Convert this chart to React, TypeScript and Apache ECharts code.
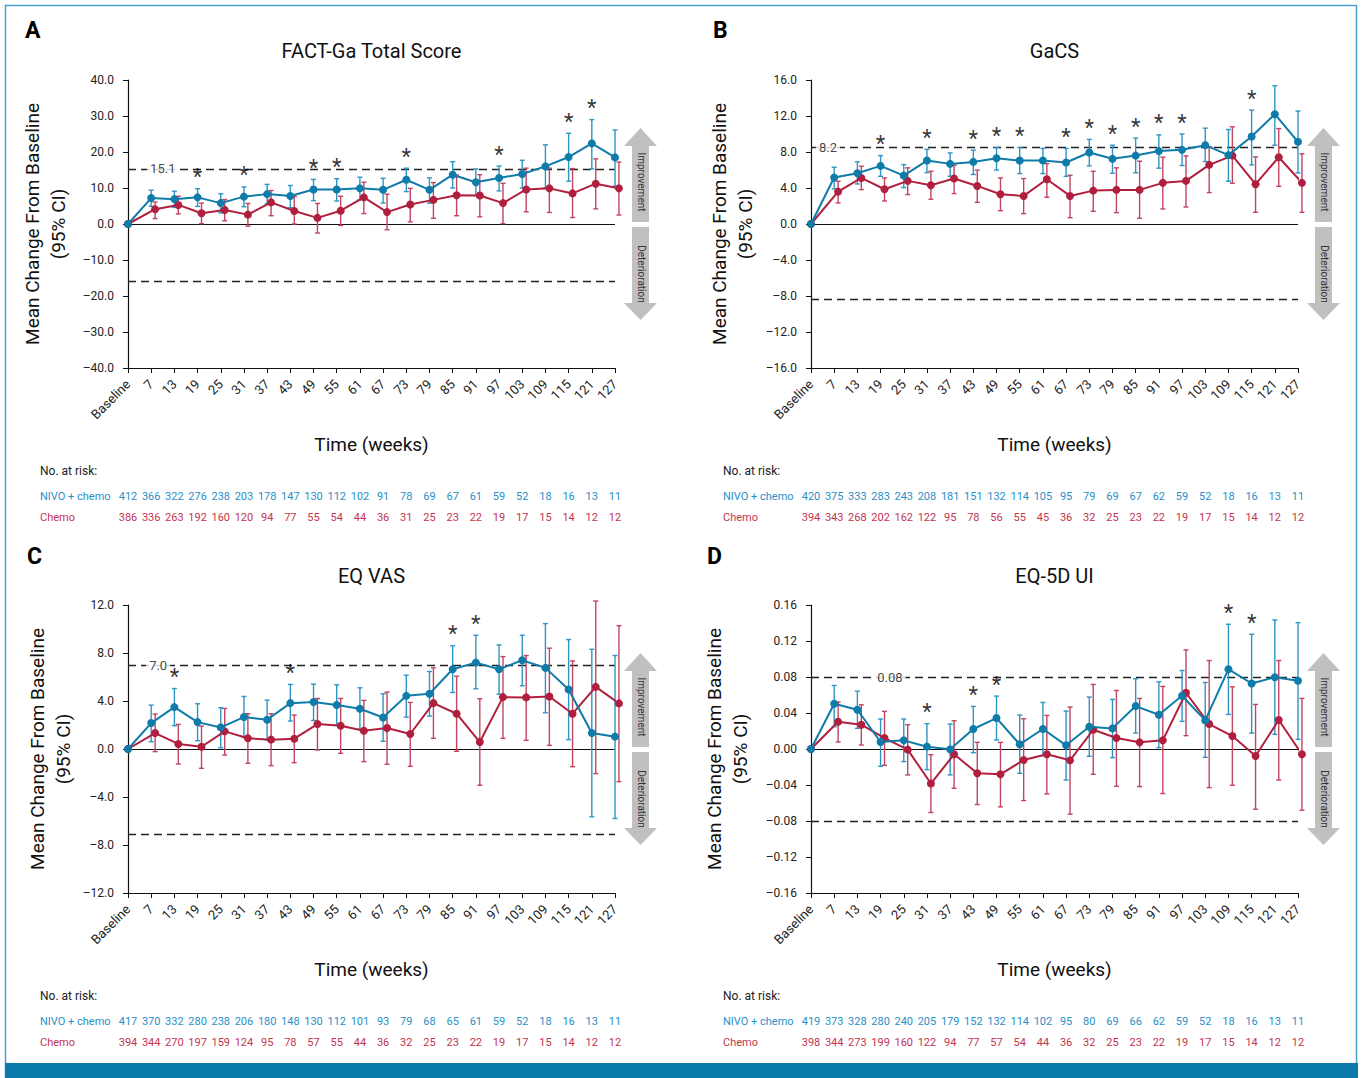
import React, { useEffect, useRef } from "react";
import * as echarts from "echarts";

// ---------- DATA ----------
const CATS = ["Baseline", "7", "13", "19", "25", "31", "37", "43", "49", "55", "61", "67", "73", "79", "85", "91", "97", "103", "109", "115", "121", "127"];

// A: FACT-Ga Total Score
const A_NIVO = [0, 7.2, 6.9, 7.4, 5.8, 7.6, 8.3, 7.8, 9.6, 9.6, 9.9, 9.5, 12.3, 9.5, 13.7, 11.6, 12.8, 13.9, 16.0, 18.6, 22.4, 18.5];
const A_NIVO_LO = [0, 4.9, 4.6, 4.9, 3.1, 4.8, 5.6, 4.5, 6.5, 6.4, 6.7, 5.8, 9.0, 5.8, 10.0, 7.9, 9.2, 10.0, 10.0, 11.9, 15.3, 10.5];
const A_NIVO_HI = [0, 9.4, 9.1, 9.8, 8.4, 10.3, 11.0, 10.7, 12.4, 12.6, 13.0, 12.7, 15.5, 12.8, 17.3, 15.3, 16.1, 17.7, 22.0, 25.2, 29.0, 26.1];
const A_CHEMO = [0, 4.1, 5.3, 3.0, 3.9, 2.6, 6.0, 3.6, 1.7, 3.7, 7.4, 3.3, 5.4, 6.7, 8.0, 7.9, 5.8, 9.6, 9.9, 8.5, 11.2, 9.9];
const A_CHEMO_LO = [0, 1.5, 2.8, 0.1, 0.9, -0.6, 2.3, 0.0, -2.5, -0.4, 2.9, -1.6, 0.6, 1.6, 2.3, 2.0, 0.1, 3.4, 3.2, 1.8, 4.2, 2.5];
const A_CHEMO_HI = [0, 6.1, 7.7, 5.8, 6.8, 5.7, 9.3, 7.7, 5.7, 7.7, 11.6, 8.3, 9.9, 11.5, 13.6, 13.7, 11.3, 15.5, 15.5, 15.4, 18.1, 17.2];
const A_SIG = [3, 5, 8, 9, 12, 16, 19, 20];
const A_REF = [15.3, -15.8];
const A_REF_LABEL = "15.1";
const A_RISK_NIVO = [412, 366, 322, 276, 238, 203, 178, 147, 130, 112, 102, 91, 78, 69, 67, 61, 59, 52, 18, 16, 13, 11];
const A_RISK_CHEMO = [386, 336, 263, 192, 160, 120, 94, 77, 55, 54, 44, 36, 31, 25, 23, 22, 19, 17, 15, 14, 12, 12];

// B: GaCS
const B_NIVO = [0, 5.16, 5.64, 6.46, 5.38, 7.05, 6.68, 6.9, 7.3, 7.05, 7.05, 6.83, 7.94, 7.24, 7.6, 8.1, 8.24, 8.76, 7.65, 9.73, 12.2, 9.13];
const B_NIVO_LO = [0, 3.9, 4.45, 5.3, 4.05, 5.7, 5.3, 5.5, 6.0, 5.6, 5.6, 5.3, 6.46, 5.64, 5.7, 6.2, 6.5, 6.94, 4.75, 6.57, 8.76, 5.68];
const B_NIVO_HI = [0, 6.3, 6.9, 7.6, 6.6, 8.3, 7.9, 8.2, 8.5, 8.5, 8.4, 8.4, 9.4, 8.76, 9.54, 9.9, 10.0, 10.65, 10.5, 12.66, 15.37, 12.55];
const B_CHEMO = [0, 3.6, 5.12, 3.86, 4.79, 4.3, 5.05, 4.23, 3.3, 3.12, 4.97, 3.12, 3.71, 3.79, 3.79, 4.57, 4.79, 6.57, 7.6, 4.42, 7.42, 4.57];
const B_CHEMO_LO = [0, 2.34, 3.82, 2.56, 3.27, 2.75, 3.38, 2.41, 1.48, 1.15, 2.97, 0.7, 1.41, 1.26, 0.63, 1.67, 1.89, 3.49, 4.53, 1.3, 4.19, 1.3];
const B_CHEMO_HI = [0, 4.75, 6.42, 5.12, 6.24, 5.86, 6.53, 5.98, 5.12, 5.05, 6.72, 5.42, 5.86, 6.24, 6.98, 7.42, 7.57, 8.6, 10.8, 7.46, 10.6, 7.8];
const B_SIG = [3, 5, 7, 8, 9, 11, 12, 13, 14, 15, 16, 19];
const B_REF = [8.5, -8.4];
const B_REF_LABEL = "8.2";
const B_RISK_NIVO = [420, 375, 333, 283, 243, 208, 181, 151, 132, 114, 105, 95, 79, 69, 67, 62, 59, 52, 18, 16, 13, 11];
const B_RISK_CHEMO = [394, 343, 268, 202, 162, 122, 95, 78, 56, 55, 45, 36, 32, 25, 23, 22, 19, 17, 15, 14, 12, 12];

// C: EQ VAS
const C_NIVO = [0, 2.16, 3.49, 2.24, 1.8, 2.66, 2.44, 3.82, 3.91, 3.66, 3.35, 2.63, 4.43, 4.6, 6.65, 7.2, 6.65, 7.4, 6.76, 4.96, 1.33, 1.03];
const C_NIVO_LO = [0, 0.61, 1.94, 0.69, 0.11, 0.97, 0.75, 2.33, 2.38, 2.0, 1.64, 0.64, 2.66, 2.74, 4.71, 5.02, 4.57, 5.27, 3.02, 0.78, -5.65, -5.79];
const C_NIVO_HI = [0, 3.66, 5.04, 3.77, 3.44, 4.38, 4.07, 5.38, 5.4, 5.35, 5.1, 4.6, 6.15, 6.46, 8.6, 9.48, 8.67, 9.48, 10.45, 9.12, 8.31, 7.79];
const C_CHEMO = [0, 1.33, 0.42, 0.19, 1.47, 0.89, 0.78, 0.86, 2.08, 1.94, 1.52, 1.75, 1.25, 3.82, 2.94, 0.58, 4.32, 4.3, 4.38, 2.94, 5.18, 3.8];
const C_CHEMO_LO = [0, -0.22, -1.25, -1.61, -0.5, -1.19, -1.39, -1.14, -0.08, -0.36, -1.05, -1.27, -1.44, 0.89, -0.19, -3.02, 0.89, 0.72, 0.3, -1.47, -2.05, -2.72];
const C_CHEMO_HI = [0, 2.91, 2.05, 1.91, 3.38, 2.94, 2.94, 2.83, 4.21, 4.21, 4.05, 4.74, 3.88, 6.76, 6.07, 4.19, 7.7, 7.79, 8.4, 7.34, 12.33, 10.28];
const C_SIG = [2, 7, 14, 15];
const C_REF = [7.0, -7.1];
const C_REF_LABEL = "7.0";
const C_RISK_NIVO = [417, 370, 332, 280, 238, 206, 180, 148, 130, 112, 101, 93, 79, 68, 65, 61, 59, 52, 18, 16, 13, 11];
const C_RISK_CHEMO = [394, 344, 270, 197, 159, 124, 95, 78, 57, 55, 44, 36, 32, 25, 23, 22, 19, 17, 15, 14, 12, 12];

// D: EQ-5D UI
const D_NIVO = [0, 0.0503, 0.0436, 0.0078, 0.0096, 0.0026, -0.0004, 0.0222, 0.0344, 0.0052, 0.0222, 0.0041, 0.0248, 0.0229, 0.0477, 0.0381, 0.0591, 0.0318, 0.0887, 0.0728, 0.0798, 0.0758];
const D_NIVO_LO = [0, 0.0248, 0.0229, -0.0192, -0.014, -0.0229, -0.0288, -0.0041, 0.01, -0.027, -0.0074, -0.0344, -0.0081, -0.0096, 0.0177, 0.0015, 0.0307, -0.0092, 0.0384, 0.0177, 0.0163, 0.0107];
const D_NIVO_HI = [0, 0.0706, 0.0643, 0.0333, 0.0333, 0.0281, 0.0277, 0.0473, 0.0588, 0.0377, 0.0517, 0.0421, 0.0577, 0.0551, 0.078, 0.0746, 0.0872, 0.0739, 0.1386, 0.1275, 0.1434, 0.1404];
const D_CHEMO = [0, 0.0303, 0.027, 0.0122, -0.0007, -0.0384, -0.0059, -0.027, -0.0281, -0.0122, -0.0059, -0.0126, 0.0214, 0.0122, 0.0074, 0.0096, 0.0625, 0.0277, 0.0144, -0.0078, 0.0322, -0.0059];
const D_CHEMO_LO = [0, 0.0078, 0.0044, -0.0181, -0.0288, -0.0706, -0.0436, -0.0617, -0.0643, -0.0573, -0.0499, -0.0724, -0.0281, -0.0414, -0.0418, -0.0495, 0.0148, -0.0429, -0.0403, -0.0669, -0.0344, -0.068];
const D_CHEMO_HI = [0, 0.0521, 0.0491, 0.0418, 0.027, -0.0063, 0.0314, 0.0074, 0.0074, 0.0336, 0.0373, 0.0466, 0.0717, 0.065, 0.0562, 0.0695, 0.1101, 0.0983, 0.0691, 0.0495, 0.0983, 0.0562];
const D_SIG = [5, 7, 8, 18, 19];
const D_REF = [0.08, -0.08];
const D_REF_LABEL = "0.08";
const D_RISK_NIVO = [419, 373, 328, 280, 240, 205, 179, 152, 132, 114, 102, 95, 80, 69, 66, 62, 59, 52, 18, 16, 13, 11];
const D_RISK_CHEMO = [398, 344, 273, 199, 160, 122, 94, 77, 57, 54, 44, 36, 32, 25, 23, 22, 19, 17, 15, 14, 12, 12];

// ---------- STYLE ----------
const BLUE = "#0e7ba9";
const RED = "#b01f3e";
const BLUE_EB = "#2f95c6";
const RED_EB = "#c2445f";
const BLUE_T = "#2a8fc7";
const RED_T = "#c4344f";
const FONT = "Roboto, 'Liberation Sans', sans-serif";
const NARROW = "'Liberation Sans Narrow', Roboto, sans-serif";
const DODGE = 0.17;
const CLEAR = "rgba(0,0,0,0)";

const PANELS = [
  { letter: "A", title: "FACT-Ga Total Score", left: 128, top: 80, yMin: -40, yMax: 40, yInt: 10, dec: 1,
    nivo: A_NIVO, nivoLo: A_NIVO_LO, nivoHi: A_NIVO_HI, chemo: A_CHEMO, chemoLo: A_CHEMO_LO, chemoHi: A_CHEMO_HI,
    sig: A_SIG, ref: A_REF, refLabel: A_REF_LABEL, refLabelX: 1.5, riskN: A_RISK_NIVO, riskC: A_RISK_CHEMO,
    letterX: 25, letterY: 32, yTitleX: 45, tableX: 40 },
  { letter: "B", title: "GaCS", left: 811, top: 80, yMin: -16, yMax: 16, yInt: 4, dec: 1,
    nivo: B_NIVO, nivoLo: B_NIVO_LO, nivoHi: B_NIVO_HI, chemo: B_CHEMO, chemoLo: B_CHEMO_LO, chemoHi: B_CHEMO_HI,
    sig: B_SIG, ref: B_REF, refLabel: B_REF_LABEL, refLabelX: 0.73, riskN: B_RISK_NIVO, riskC: B_RISK_CHEMO,
    letterX: 713, letterY: 32, yTitleX: 732, tableX: 723 },
  { letter: "C", title: "EQ VAS", left: 128, top: 605, yMin: -12, yMax: 12, yInt: 4, dec: 1,
    nivo: C_NIVO, nivoLo: C_NIVO_LO, nivoHi: C_NIVO_HI, chemo: C_CHEMO, chemoLo: C_CHEMO_LO, chemoHi: C_CHEMO_HI,
    sig: C_SIG, ref: C_REF, refLabel: C_REF_LABEL, refLabelX: 1.3, riskN: C_RISK_NIVO, riskC: C_RISK_CHEMO,
    letterX: 27, letterY: 558, yTitleX: 50, tableX: 40 },
  { letter: "D", title: "EQ-5D UI", left: 811, top: 605, yMin: -0.16, yMax: 0.16, yInt: 0.04, dec: 2,
    nivo: D_NIVO, nivoLo: D_NIVO_LO, nivoHi: D_NIVO_HI, chemo: D_CHEMO, chemoLo: D_CHEMO_LO, chemoHi: D_CHEMO_HI,
    sig: D_SIG, ref: D_REF, refLabel: D_REF_LABEL, refLabelX: 3.4, riskN: D_RISK_NIVO, riskC: D_RISK_CHEMO,
    letterX: 707, letterY: 558, yTitleX: 727, tableX: 723 },
];

const GW = 487;
const GH = 288;

function fmt(v: number, dec: number) {
  const s = Math.abs(v).toFixed(dec);
  return v < -1e-9 ? "\u2013" + s : s;
}

function errorBars(color: string) {
  return (params: any, api: any) => {
    const x = api.value(0);
    const lo = api.coord([x, api.value(1)]);
    const hi = api.coord([x, api.value(2)]);
    const w = 2.5;
    const st = { stroke: color, lineWidth: 1.4 };
    return {
      type: "group",
      children: [
        { type: "line", shape: { x1: lo[0], y1: lo[1], x2: hi[0], y2: hi[1] }, style: st },
        { type: "line", shape: { x1: hi[0] - w, y1: hi[1], x2: hi[0] + w, y2: hi[1] }, style: st },
        { type: "line", shape: { x1: lo[0] - w, y1: lo[1], x2: lo[0] + w, y2: lo[1] }, style: st },
      ],
    };
  };
}

function buildOption() {
  const grid: any[] = [];
  const xAxis: any[] = [];
  const yAxis: any[] = [];
  const series: any[] = [];
  const graphic: any[] = [];

  PANELS.forEach((p, g) => {
    grid.push({ left: p.left, top: p.top, width: GW, height: GH, containLabel: false });
    xAxis.push({
      type: "value", gridIndex: g, min: 0, max: 21, interval: 1,
      axisLine: { show: true, onZero: false, lineStyle: { color: "#111", width: 1.2 } },
      axisTick: { show: true, length: 5, lineStyle: { color: "#111" } },
      splitLine: { show: false },
      axisLabel: { rotate: 45, margin: 14, fontSize: 13, color: "#222", fontFamily: FONT,
        formatter: (v: number) => CATS[Math.round(v)] ?? "" },
    });
    xAxis.push({
      type: "category", gridIndex: g, data: p.riskN.map(String), boundaryGap: false, position: "bottom", offset: 123,
      axisLine: { show: false }, axisTick: { show: false }, splitLine: { show: false },
      axisLabel: { interval: 0, margin: 0, fontSize: 11, color: BLUE_T, fontFamily: NARROW },
    });
    xAxis.push({
      type: "category", gridIndex: g, data: p.riskC.map(String), boundaryGap: false, position: "bottom", offset: 144,
      axisLine: { show: false }, axisTick: { show: false }, splitLine: { show: false },
      axisLabel: { interval: 0, margin: 0, fontSize: 11, color: RED_T, fontFamily: NARROW },
    });
    yAxis.push({
      type: "value", gridIndex: g, min: p.yMin, max: p.yMax, interval: p.yInt,
      axisLine: { show: true, onZero: false, lineStyle: { color: "#111", width: 1.2 } },
      axisTick: { show: true, length: 5, lineStyle: { color: "#111" } },
      splitLine: { show: false },
      axisLabel: { margin: 14, fontSize: 12, color: "#222", fontFamily: FONT, formatter: (v: number) => fmt(v, p.dec) },
    });
    const xi = g * 3;
    // reference lines
    series.push({
      type: "line", xAxisIndex: xi, yAxisIndex: g, data: [], z: 1, silent: true,
      markLine: {
        z: 1, silent: true, symbol: ["none", "none"], label: { show: false },
        data: [
          [{ coord: [0, 0], lineStyle: { type: "solid", color: "#111", width: 1.2 } }, { coord: [21, 0] }],
          [{ coord: [0, p.ref[0]], lineStyle: { type: [8, 5], color: "#222", width: 1.3 } }, { coord: [21, p.ref[0]] }],
          [{ coord: [0, p.ref[1]], lineStyle: { type: [8, 5], color: "#222", width: 1.3 } }, { coord: [21, p.ref[1]] }],
        ],
      },
    });
    // ref label
    series.push({
      type: "scatter", xAxisIndex: xi, yAxisIndex: g, data: [[p.refLabelX, p.ref[0]]], symbolSize: 2, z: 10, silent: true,
      itemStyle: { color: CLEAR },
      label: { show: true, position: "inside", formatter: p.refLabel, backgroundColor: "#fff", padding: [1, 3],
        fontSize: 13, color: "#111", textBorderWidth: 0, fontFamily: FONT },
    });
    // error bars
    series.push({
      type: "custom", xAxisIndex: xi, yAxisIndex: g, z: 3, silent: true,
      data: p.chemoLo.map((lo, i) => [i === 0 ? 0 : i + DODGE, lo, p.chemoHi[i]]).slice(1),
      encode: { x: 0, y: [1, 2] }, renderItem: errorBars(RED_EB),
    });
    series.push({
      type: "custom", xAxisIndex: xi, yAxisIndex: g, z: 3, silent: true,
      data: p.nivoLo.map((lo, i) => [i, lo, p.nivoHi[i]]).slice(1),
      encode: { x: 0, y: [1, 2] }, renderItem: errorBars(BLUE_EB),
    });
    // lines
    series.push({
      type: "line", name: "Chemo", xAxisIndex: xi, yAxisIndex: g, z: 4, clip: false,
      data: p.chemo.map((v, i) => [i === 0 ? 0 : i + DODGE, v]),
      symbol: "circle", symbolSize: 8, lineStyle: { color: RED, width: 2 }, itemStyle: { color: RED },
    });
    series.push({
      type: "line", name: "NIVO + chemo", xAxisIndex: xi, yAxisIndex: g, z: 5, clip: false,
      data: p.nivo.map((v, i) => [i, v]),
      symbol: "circle", symbolSize: 8, lineStyle: { color: BLUE, width: 2 }, itemStyle: { color: BLUE },
    });
    // significance asterisks
    series.push({
      type: "scatter", xAxisIndex: xi, yAxisIndex: g, z: 10, silent: true, symbolSize: 2,
      itemStyle: { color: CLEAR },
      data: p.sig.map((i) => [i, p.nivoHi[i]]),
      label: { show: true, position: "top", distance: 0, formatter: "*", fontSize: 22, color: "#000",
        textBorderWidth: 0, fontFamily: FONT },
    });

    // graphics
    const cx = p.left + GW / 2;
    const zeroY = p.top + GH / 2;
    graphic.push({ type: "text", left: p.letterX, top: p.letterY - 13,
      style: { text: p.letter, font: `bold 23px ${FONT}`, fill: "#000" } });
    graphic.push({ type: "text", x: cx, y: p.top - 29,
      style: { text: p.title, font: `20px ${FONT}`, fill: "#111", align: "center", verticalAlign: "middle" } });
    graphic.push({ type: "text", x: cx, y: p.top + 364,
      style: { text: "Time (weeks)", font: `19px ${FONT}`, fill: "#111", align: "center", verticalAlign: "middle" } });
    graphic.push({ type: "text", x: p.yTitleX, y: zeroY, rotation: Math.PI / 2,
      style: { text: "Mean Change From Baseline\n(95% CI)", font: `19px ${FONT}`, lineHeight: 26, fill: "#111",
        align: "center", verticalAlign: "middle" } });
    graphic.push({ type: "text", x: p.tableX, y: p.top + 391,
      style: { text: "No. at risk:", font: `12px ${FONT}`, fill: "#222", verticalAlign: "middle" } });
    graphic.push({ type: "text", x: p.tableX, y: p.top + 416,
      style: { text: "NIVO + chemo", font: `11px ${NARROW}`, fill: BLUE_T, verticalAlign: "middle" } });
    graphic.push({ type: "text", x: p.tableX, y: p.top + 437,
      style: { text: "Chemo", font: `11px ${NARROW}`, fill: RED_T, verticalAlign: "middle" } });
    // arrows
    const ax = p.left + GW + 25.5;
    const AC = "#c0c0c0";
    graphic.push({ type: "polygon", shape: { points: [
      [ax, zeroY - 96], [ax + 16.5, zeroY - 78], [ax + 8.5, zeroY - 78], [ax + 8.5, zeroY - 2],
      [ax - 8.5, zeroY - 2], [ax - 8.5, zeroY - 78], [ax - 16.5, zeroY - 78]] }, style: { fill: AC } });
    graphic.push({ type: "polygon", shape: { points: [
      [ax - 8.5, zeroY + 3], [ax + 8.5, zeroY + 3], [ax + 8.5, zeroY + 79], [ax + 16.5, zeroY + 79],
      [ax, zeroY + 96], [ax - 16.5, zeroY + 79], [ax - 8.5, zeroY + 79]] }, style: { fill: AC } });
    graphic.push({ type: "text", x: ax + 0.5, y: zeroY - 42, rotation: -Math.PI / 2,
      style: { text: "Improvement", font: `10px ${FONT}`, fill: "#333", align: "center", verticalAlign: "middle" } });
    graphic.push({ type: "text", x: ax + 0.5, y: zeroY + 50, rotation: -Math.PI / 2,
      style: { text: "Deterioration", font: `10px ${FONT}`, fill: "#333", align: "center", verticalAlign: "middle" } });
  });

  // frame and bottom bar
  graphic.push({ type: "rect", shape: { x: 5.5, y: 5.5, width: 1351, height: 1080 },
    style: { fill: "none", stroke: "#4aa0cf", lineWidth: 1.5 }, z: -1 });
  graphic.push({ type: "rect", shape: { x: 5, y: 1063, width: 1353, height: 15 }, style: { fill: "#0a7aab" } });

  return {
    animation: false,
    backgroundColor: "#fff",
    textStyle: { fontFamily: FONT },
    grid, xAxis, yAxis, series, graphic,
  };
}

export default function App() {
  const ref = useRef<HTMLDivElement>(null);
  useEffect(() => {
    if (!ref.current) return;
    const chart = echarts.init(ref.current, undefined, { renderer: "svg" });
    chart.setOption(buildOption() as any);
    return () => chart.dispose();
  }, []);
  return <div ref={ref} style={{ position: "absolute", left: 0, top: 0, width: 1363, height: 1078 }} />;
}
